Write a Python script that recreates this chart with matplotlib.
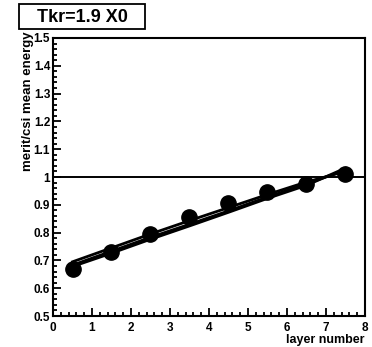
import numpy as np
import matplotlib.pyplot as plt
from matplotlib.patches import Rectangle
from matplotlib.ticker import MultipleLocator

layers = [0.5, 1.5, 2.5, 3.5, 4.5, 5.5, 6.5, 7.5]
mean_energy = [0.67, 0.73, 0.795, 0.855, 0.905, 0.945, 0.975, 1.01]
fit_a = [0.683, 0.733, 0.783, 0.830, 0.878, 0.928, 0.975, 1.025]
fit_b = [0.695, 0.745, 0.795, 0.843, 0.890, 0.937, 0.982, 1.020]
fit_c = [0.678, 0.726, 0.776, 0.824, 0.873, 0.923, 0.970, 1.032]

plt.rcParams['font.family'] = ['Liberation Sans', 'DejaVu Sans']
plt.rcParams['font.weight'] = 'bold'

fig = plt.figure(figsize=(3.72, 3.47), dpi=100)
ax = fig.add_axes([0.1425, 0.0893, 0.8385, 0.8012])

for fit in [fit_a, fit_b, fit_c]:
    ax.plot(layers, fit, color='black', linewidth=2.0)
ax.plot(layers, mean_energy, 'o', color='black', markersize=11)
ax.axhline(1.0, color='black', linewidth=1.4)

ax.set_xlim(0, 8)
ax.set_ylim(0.5, 1.5)
ax.xaxis.set_minor_locator(MultipleLocator(0.2))
ax.yaxis.set_minor_locator(MultipleLocator(0.02))
ax.set_xticks(np.arange(0, 9), [str(i) for i in range(9)])
ax.set_yticks(np.round(np.arange(0.5, 1.51, 0.1), 1),
              ['0.5', '0.6', '0.7', '0.8', '0.9', '1', '1.1', '1.2', '1.3', '1.4', '1.5'])
ax.tick_params(which='both', direction='in', top=False, right=False, width=1.3, labelsize=8.5)
ax.tick_params(axis='x', which='major', length=6, pad=4)
ax.tick_params(axis='y', which='major', length=6, pad=2)
ax.tick_params(which='minor', length=3)
for s in ax.spines.values():
    s.set_linewidth(1.5)

ax.set_xlabel('layer number', fontsize=9, fontweight='bold')
ax.xaxis.set_label_coords(1.0, -0.063)
ax.xaxis.label.set_horizontalalignment('right')
ax.set_ylabel('merit/csi mean energy', fontsize=9.5, fontweight='bold')
ax.yaxis.set_label_coords(-0.06, 1.025)
ax.yaxis.label.set_horizontalalignment('right')

fig.patches.append(Rectangle((19 / 372, 1 - 29 / 347), 126 / 372, 25 / 347, transform=fig.transFigure,
                             facecolor='white', edgecolor='black', linewidth=1.3))
fig.text(82 / 372, 1 - 17 / 347, 'Tkr=1.9 X0', fontsize=13, fontweight='bold', ha='center', va='center')

fig.savefig('out.png', dpi=100)
